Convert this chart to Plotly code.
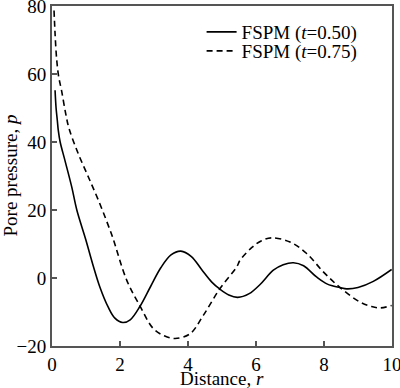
import plotly.graph_objects as go

# t = 0.50 (solid)
r_050 = [0.09, 0.12, 0.156, 0.185, 0.24, 0.38, 0.58, 0.73, 0.99, 1.2, 1.41, 1.65, 1.85, 2.08, 2.3,
         2.59, 2.9, 3.2, 3.5, 3.79, 4.1, 4.4, 4.7, 4.94, 5.2, 5.46, 5.8, 6.12, 6.51, 6.8, 7.1,
         7.4, 7.78, 8.1, 8.47, 8.67, 9.0, 9.45, 9.99]
p_050 = [55.2, 50.0, 46.4, 43.4, 40.0, 34.6, 26.8, 20.0, 11.4, 4.0, -2.7, -8.5, -11.8, -13.1, -12.3,
         -8.3, -2.5, 3.0, 6.8, 7.9, 6.3, 2.5, -1.2, -3.3, -5.0, -5.7, -4.6, -1.9, 2.3, 3.9, 4.5,
         3.6, 0.3, -1.8, -2.8, -3.2, -2.8, -1.0, 2.5]

# t = 0.75 (dashed)
r_075 = [0.06, 0.09, 0.14, 0.2, 0.28, 0.4, 0.5, 0.77, 1.07, 1.38, 1.71, 1.8, 2.2, 2.59, 2.98,
         3.3, 3.62, 4.06, 4.45, 4.94, 5.43, 5.53, 5.88, 6.15, 6.46, 7.0, 7.49, 7.98, 8.47,
         9.06, 9.4, 9.65, 9.99]
p_075 = [78.7, 71.9, 64.0, 59.0, 55.2, 48.5, 44.0, 36.6, 29.7, 22.5, 14.0, 11.5, -0.7, -8.3, -14.9,
         -17.0, -17.8, -16.4, -11.0, -3.1, 3.2, 5.2, 9.0, 10.9, 11.8, 10.6, 7.2, 1.8, -2.8,
         -7.1, -8.4, -8.8, -8.1]

x_ticks = [0, 2, 4, 6, 8, 10]
y_ticks = [-20, 0, 20, 40, 60, 80]
y_ticktext = ["\u221220", "0", "20", "40", "60", "80"]

font = "Liberation Serif"
axcol = "#555555"

fig = go.Figure()
fig.add_trace(go.Scatter(x=r_050, y=p_050, mode="lines", name="FSPM (<i>t</i>=0.50)", legend="legend",
                         line=dict(color="black", width=1.6, shape="spline", smoothing=1.0)))
fig.add_trace(go.Scatter(x=r_075, y=p_075, mode="lines", name="FSPM (<i>t</i>=0.75)", legend="legend2",
                         line=dict(color="black", width=1.6, dash="6px,4px", shape="spline", smoothing=1.0)))

leg_common = dict(xanchor="left", yanchor="middle", bgcolor="rgba(0,0,0,0)",
                  font=dict(size=19, family=font), borderwidth=0)

fig.update_layout(
    width=400, height=388,
    margin=dict(l=52, r=8, t=6, b=42, autoexpand=False),
    paper_bgcolor="white", plot_bgcolor="white",
    font=dict(family=font, size=19, color="black"),
    showlegend=True,
    legend=dict(x=0.44, y=0.9235, **leg_common),
    legend2=dict(x=0.44, y=0.8676, **leg_common),
    xaxis=dict(range=[0, 10], tickvals=x_ticks, ticks="inside", ticklen=5, tickwidth=1.5,
               tickcolor=axcol, showline=True, linecolor=axcol, linewidth=2, mirror=True,
               showgrid=False, zeroline=False, automargin=False, ticklabeloverflow="allow"),
    yaxis=dict(range=[-20, 80], tickvals=y_ticks, ticktext=y_ticktext, ticks="inside", ticklen=5,
               tickwidth=1.5, tickcolor=axcol, showline=True, linecolor=axcol, linewidth=2,
               mirror=True, showgrid=False, zeroline=False, automargin=False,
               ticklabeloverflow="allow"),
    annotations=[
        dict(text="Distance, <i>r</i>", xref="paper", yref="paper", x=0.5, y=0,
             xanchor="center", yanchor="top", yshift=-20, showarrow=False, font=dict(size=19)),
        dict(text="Pore pressure, <i>p</i>", xref="paper", yref="paper", x=0, y=0.5,
             xanchor="right", yanchor="middle", xshift=-30, textangle=-90, showarrow=False,
             font=dict(size=19)),
    ],
)

fig.write_html("out.html", config={"displayModeBar": False},
               post_script="document.body.style.margin='0';document.body.style.overflow='hidden';")
